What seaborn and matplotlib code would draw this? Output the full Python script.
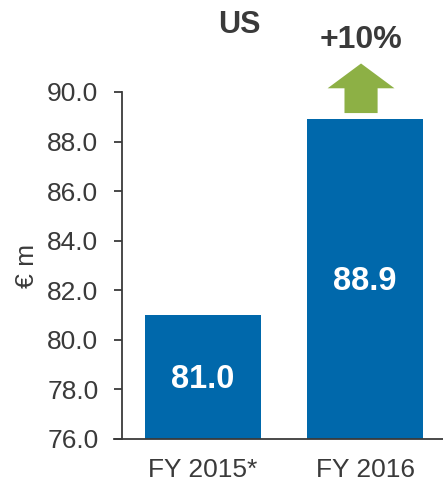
import matplotlib
matplotlib.use("Agg")
import matplotlib.pyplot as plt
import seaborn as sns
import pandas as pd
from matplotlib.patches import Polygon

categories = ["FY 2015*", "FY 2016"]
values = [81.0, 88.9]
value_labels = ["81.0", "88.9"]
yticks = [76, 78, 80, 82, 84, 86, 88, 90]
title = "US"
growth_label = "+10%"
ylabel = "€ m"

sns.set_theme(style="white")
plt.rcParams["font.family"] = ["Liberation Sans", "DejaVu Sans"]

TEXT = "#3a3a3a"
BLUE = "#0068AB"
GREEN = "#8DB045"

df = pd.DataFrame({"cat": categories, "val": values})

fig = plt.figure(figsize=(4.43, 4.84), dpi=100)
ax = fig.add_axes([122/443, 45/484, 1 - 122/443, (439-92)/484])

sns.barplot(data=df, x="cat", y="val", color=BLUE, width=0.714, ax=ax,
            saturation=1, edgecolor="none")

ax.set_ylim(76, 90)
ax.set_xlim(-0.498, 1.48)
ax.set_yticks(yticks)
ax.set_yticklabels([f"{t:.1f}" for t in yticks], fontsize=19, color=TEXT)
ax.tick_params(axis="y", direction="out", length=6, width=1.3, color=TEXT, pad=11, left=True)
ax.tick_params(axis="x", length=0, pad=14, labelsize=19, labelcolor=TEXT)
ax.set_xlabel("")
ax.set_ylabel(ylabel, fontsize=19, color=TEXT, labelpad=6)

for s in ["top", "right"]:
    ax.spines[s].set_visible(False)
for s in ["left", "bottom"]:
    ax.spines[s].set_color(TEXT)
    ax.spines[s].set_linewidth(1.3)
ax.spines["bottom"].set_bounds(-0.55, 1.48)
ax.spines["bottom"].set_clip_on(False)

for i, (v, lab) in enumerate(zip(values, value_labels)):
    ax.text(i, (76 + v) / 2 - 0.1, lab, ha="center", va="center", color="white",
            fontsize=23.5, fontweight="bold")

# growth arrow above second bar
cx = 0.975
base = values[1] + 0.25
shaft_w, head_w = 0.102, 0.206
head_base = base + 1.0
tip = head_base + 1.0
pts = [(cx - shaft_w, base), (cx + shaft_w, base), (cx + shaft_w, head_base),
       (cx + head_w, head_base), (cx, tip), (cx - head_w, head_base),
       (cx - shaft_w, head_base)]
ax.add_patch(Polygon(pts, closed=True, facecolor=GREEN, edgecolor="none", clip_on=False))
ax.text(cx, tip + 0.95, growth_label, ha="center", va="center", color=TEXT,
        fontsize=23, fontweight="bold", clip_on=False)

fig.text(239/443, 1 - 25/484, title, ha="center", va="center", color=TEXT,
         fontsize=22, fontweight="bold")

fig.savefig("out.png", dpi=100)
